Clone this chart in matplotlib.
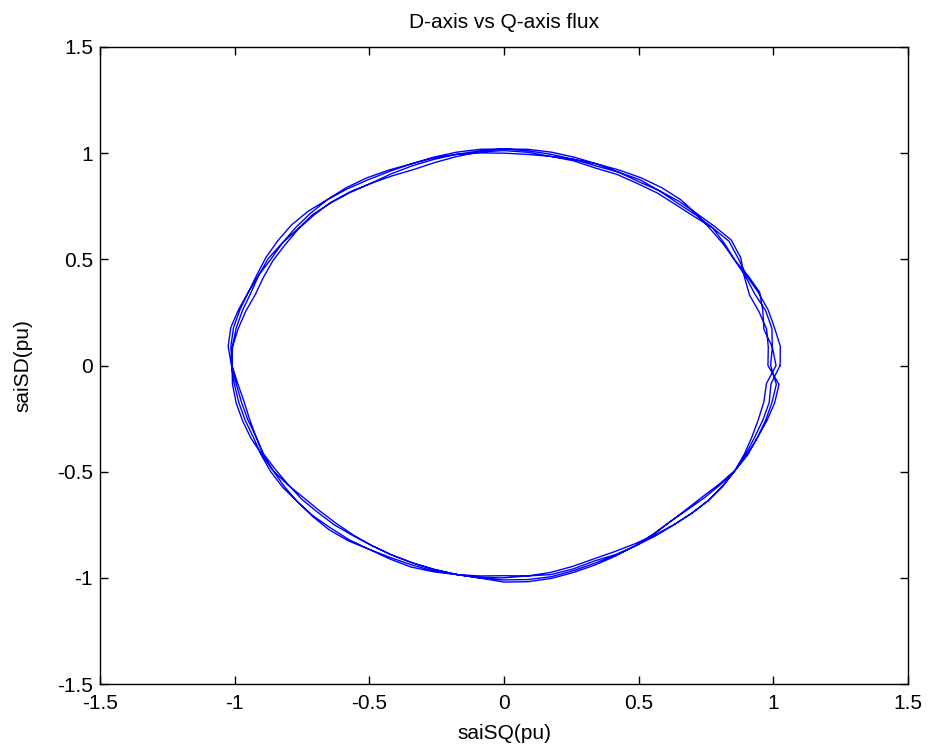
import numpy as np
import matplotlib
matplotlib.use("Agg")
import matplotlib.pyplot as plt

plt.rcParams['font.family'] = ['Liberation Sans', 'DejaVu Sans']

# stator flux magnitude |sai_s| (pu) sampled every 5 deg of flux angle, four cycles
angle_deg = list(range(0, 360, 5))

flux_cycle1 = [1.025, 1.030, 1.020, 1.015, 1.005, 0.995, 1.005, 1.020, 1.010, 0.995,
               0.990, 0.992, 0.990, 0.993, 0.990, 0.998, 1.000, 1.008, 1.012, 1.010,
               1.000, 0.990, 0.982, 0.985, 0.990, 0.998, 1.002, 1.000, 0.998, 0.992,
               0.990, 0.985, 0.982, 0.992, 1.002, 1.012, 1.010, 1.012, 1.010, 1.005,
               1.000, 0.992, 0.990, 0.995, 1.000, 1.002, 1.000, 1.002, 1.000, 1.005,
               1.010, 1.006, 1.000, 1.005, 1.020, 1.022, 1.018, 1.008, 0.998, 0.988,
               0.978, 0.968, 0.960, 0.958, 0.962, 0.975, 0.990, 0.995, 1.000, 1.010,
               1.020, 1.025]

flux_cycle2 = [0.980, 0.985, 0.990, 0.980, 0.970, 0.985, 1.015, 1.030, 1.020, 1.012,
               1.010, 1.005, 1.000, 1.005, 1.010, 1.015, 1.020, 1.022, 1.020, 1.022,
               1.020, 1.015, 1.010, 1.008, 1.010, 1.015, 1.020, 1.028, 1.030, 1.025,
               1.020, 1.012, 1.010, 1.015, 1.020, 1.018, 1.010, 0.998, 0.990, 0.985,
               0.980, 0.985, 0.980, 0.978, 0.980, 0.978, 0.980, 0.978, 0.980, 0.985,
               0.990, 0.995, 1.000, 1.002, 1.000, 0.995, 0.990, 0.980, 0.970, 0.968,
               0.970, 0.975, 0.980, 0.985, 0.990, 0.992, 0.990, 0.985, 0.980, 0.978,
               0.980, 0.978]

flux_cycle3 = [1.010, 1.000, 0.980, 0.995, 1.010, 1.000, 0.990, 0.995, 1.000, 1.010,
               1.020, 1.022, 1.020, 1.015, 1.010, 1.005, 1.000, 0.998, 1.000, 1.005,
               1.010, 1.012, 1.010, 1.015, 1.020, 1.022, 1.020, 1.015, 1.010, 1.005,
               1.000, 1.005, 1.010, 1.020, 1.030, 1.028, 1.012, 1.005, 1.000, 0.995,
               0.990, 0.995, 1.000, 1.002, 1.000, 1.005, 1.010, 1.008, 1.000, 0.998,
               1.000, 1.002, 1.000, 0.995, 0.990, 0.995, 1.000, 0.992, 0.980, 0.982,
               0.980, 0.970, 0.960, 0.962, 0.970, 0.980, 0.990, 0.998, 1.000, 1.005,
               1.010, 1.015]

flux_cycle4 = [0.990, 1.000, 1.010, 1.005, 0.990, 0.990, 0.990, 1.000, 1.010, 1.005,
               1.000, 1.005, 1.010, 1.005, 1.000, 1.005, 1.010, 1.015, 1.020, 1.015,
               1.010, 1.005, 1.000, 0.995, 0.990, 0.995, 1.000, 1.005, 1.000, 1.005,
               1.010, 1.005, 1.000, 1.005, 1.010, 1.012, 1.010, 0.992, 0.980, 0.978,
               0.980, 0.988, 0.990, 0.980, 0.970, 0.968, 0.970, 0.975, 0.980, 0.985,
               0.990, 0.995, 1.000, 1.005, 1.010, 1.012, 1.010, 1.000, 0.990, 0.985,
               0.980, 0.980, 0.980, 0.985, 0.990, 0.990, 0.990, 0.990, 0.990, 0.995,
               1.000, 0.995]

ticks = [-1.5, -1, -0.5, 0, 0.5, 1, 1.5]
tick_labels = ['-1.5', '-1', '-0.5', '0', '0.5', '1', '1.5']

theta = np.deg2rad(angle_deg * 4 + angle_deg[:1])
mag = np.array(flux_cycle1 + flux_cycle2 + flux_cycle3 + flux_cycle4 + flux_cycle1[:1])
sai_sq = mag * np.cos(theta)
sai_sd = mag * np.sin(theta)

fig = plt.figure(figsize=(9.29, 7.56), dpi=100)
ax = fig.add_axes([100/929, 1 - 684/756, 808/929, 637/756])

ax.plot(sai_sq, sai_sd, color='#0000ff', linewidth=1.0)

ax.set_xlim(-1.5, 1.5)
ax.set_ylim(-1.5, 1.5)
ax.set_xticks(ticks)
ax.set_xticklabels(tick_labels)
ax.set_yticks(ticks)
ax.set_yticklabels(tick_labels)
ax.tick_params(direction='in', length=6, width=1, top=True, right=True,
               labelsize=15)
ax.tick_params(axis='x', pad=7)
ax.tick_params(axis='y', pad=5)
for s in ax.spines.values():
    s.set_linewidth(1)

ax.set_title('D-axis vs Q-axis flux', fontsize=15, pad=14)
ax.set_xlabel('saiSQ(pu)', fontsize=15, labelpad=8)
ax.set_ylabel('saiSD(pu)', fontsize=15, labelpad=18)

fig.savefig('out.png', dpi=100)
